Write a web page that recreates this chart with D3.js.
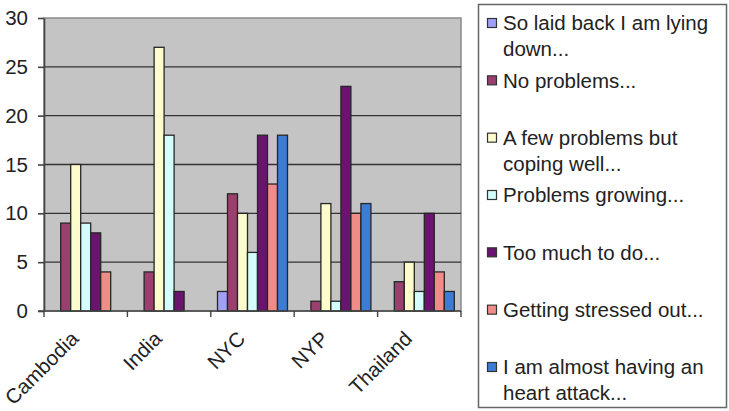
<!DOCTYPE html>
<html>
<head>
<meta charset="utf-8">
<script src="https://cdn.jsdelivr.net/npm/d3@7"></script>
<style>
  body { margin: 0; background: #fff; }
  svg text { font-family: "Liberation Sans", Arial, sans-serif; }
</style>
</head>
<body>
<svg id="chart" width="729" height="411"></svg>
<script>
const categories = ['Cambodia', 'India', 'NYC', 'NYP', 'Thailand'];

const seriesNames = [
  ['So laid back I am lying', 'down...'],
  ['No problems...'],
  ['A few problems but', 'coping well...'],
  ['Problems growing...'],
  ['Too much to do...'],
  ['Getting stressed out...'],
  ['I am almost having an', 'heart attack...']
];

const seriesColors = ['#a0a0f8', '#9a3f6e', '#fcfccc', '#d4fcfc', '#6a1470', '#f08c88', '#3c7cd4'];

// one row per series, one value per category
const laidBack   = [0, 0, 2, 0, 0];
const noProblems = [9, 4, 12, 1, 3];
const fewProbs   = [15, 27, 10, 11, 5];
const growing    = [9, 18, 6, 1, 2];
const tooMuch    = [8, 2, 18, 23, 10];
const stressed   = [4, 0, 13, 10, 4];
const heartAtk   = [0, 0, 18, 11, 2];

const yTicks = [0, 5, 10, 15, 20, 25, 30];

const values = [laidBack, noProblems, fewProbs, growing, tooMuch, stressed, heartAtk];

const svg = d3.select('#chart');

const plot = { left: 44, right: 461, top: 18, bottom: 311 };

const x0 = d3.scaleBand()
  .domain(categories)
  .range([plot.left, plot.right]);

const x1 = d3.scaleBand()
  .domain(d3.range(seriesNames.length))
  .range([0, x0.bandwidth()])
  .paddingOuter(0.67);

const y = d3.scaleLinear().domain([0, 30]).range([plot.bottom, plot.top]);

// plot background
svg.append('rect')
  .attr('x', plot.left)
  .attr('y', plot.top)
  .attr('width', plot.right - plot.left)
  .attr('height', plot.bottom - plot.top)
  .attr('fill', '#c4c4c4')
  .attr('stroke', '#8a8a8a')
  .attr('stroke-width', 1.5);

// gridlines
svg.append('g')
  .selectAll('line')
  .data(yTicks.filter(d => d > 0 && d < 30))
  .join('line')
  .attr('x1', plot.left)
  .attr('x2', plot.right)
  .attr('y1', d => y(d))
  .attr('y2', d => y(d))
  .attr('stroke', '#333')
  .attr('stroke-width', 1.4);

// bars
const groups = svg.append('g')
  .selectAll('g')
  .data(categories)
  .join('g')
  .attr('transform', d => `translate(${x0(d)},0)`);

groups.selectAll('rect')
  .data((c, ci) => values.map((vals, si) => ({ si, v: vals[ci] })))
  .join('rect')
  .filter(d => d.v > 0)
  .attr('x', d => x1(d.si))
  .attr('y', d => y(d.v))
  .attr('width', x1.bandwidth())
  .attr('height', d => y(0) - y(d.v))
  .attr('fill', d => seriesColors[d.si])
  .attr('stroke', '#262626')
  .attr('stroke-width', 1.3);

// y axis
const yAxis = svg.append('g')
  .attr('transform', `translate(${plot.left},0)`)
  .call(d3.axisLeft(y).tickValues(yTicks).tickSize(6).tickPadding(10).tickSizeOuter(0));
yAxis.selectAll('text').attr('font-size', 20.5).attr('fill', '#222');
yAxis.selectAll('line, path').attr('stroke', '#444').attr('stroke-width', 1.6);

// x axis
const xAxis = svg.append('g')
  .attr('transform', `translate(0,${plot.bottom})`);
xAxis.append('line')
  .attr('x1', plot.left - 6)
  .attr('x2', plot.right)
  .attr('stroke', '#444')
  .attr('stroke-width', 1.6);
xAxis.selectAll('.tk')
  .data(categories.map(c => x0(c) + x0.bandwidth()).slice(0, -1).concat([plot.left, plot.right]))
  .join('line')
  .attr('class', 'tk')
  .attr('x1', d => d)
  .attr('x2', d => d)
  .attr('y1', 0)
  .attr('y2', 6)
  .attr('stroke', '#444')
  .attr('stroke-width', 1.4);

svg.append('g')
  .selectAll('text')
  .data(categories)
  .join('text')
  .attr('transform', d => `translate(${x0(d) + x0.bandwidth() / 2 - 6},${340}) rotate(-45)`)
  .attr('text-anchor', 'end')
  .attr('font-size', 20.5)
  .attr('fill', '#222')
  .text(d => d);

// legend
const legend = svg.append('g');
legend.append('rect')
  .attr('x', 478.5)
  .attr('y', 4.5)
  .attr('width', 248)
  .attr('height', 403)
  .attr('fill', '#fff')
  .attr('stroke', '#666')
  .attr('stroke-width', 1.5);

const ly = d3.scaleLinear().domain([0, 6]).range([23, 367]);

const items = legend.selectAll('g.item')
  .data(seriesNames)
  .join('g')
  .attr('class', 'item')
  .attr('transform', (d, i) => `translate(0,${ly(i)})`);

items.append('rect')
  .attr('x', 487.5)
  .attr('y', -4.5)
  .attr('width', 9)
  .attr('height', 9)
  .attr('fill', (d, i) => seriesColors[i])
  .attr('stroke', '#333')
  .attr('stroke-width', 1.2);

items.append('text')
  .attr('font-size', 20.5)
  .attr('fill', '#222')
  .selectAll('tspan')
  .data(d => d)
  .join('tspan')
  .attr('x', 503)
  .attr('y', (d, i) => i * 25.5)
  .attr('dy', '0.36em')
  .text(d => d);
</script>
</body>
</html>
